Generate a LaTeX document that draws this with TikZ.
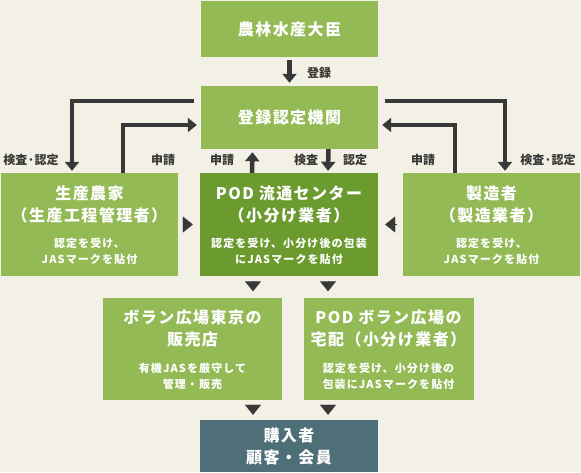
\documentclass[tikz,border=0pt]{standalone}
\usepackage{fontspec}
\setmainfont{Noto Sans CJK JP}
\usetikzlibrary{arrows.meta}
\definecolor{Paper}{HTML}{F3F1E5}
\definecolor{Leaf}{HTML}{93BA55}
\definecolor{Moss}{HTML}{6B9A2F}
\definecolor{Slate}{HTML}{4F6F78}
\definecolor{Ink}{HTML}{383838}

\begin{document}
\begin{tikzpicture}[x=1pt,y=-1pt,
    ttl/.style={text=white,align=center,
      font=\fontsize{16}{22}\selectfont\bfseries\addfontfeatures{LetterSpace=9}},
    note/.style={text=white,align=center,
      font=\fontsize{11}{16}\selectfont\bfseries\addfontfeatures{LetterSpace=10}},
    lbl/.style={text=Ink,font=\fontsize{12}{14}\selectfont\bfseries},
    flow/.style={-{Triangle[width=14pt,length=9pt]},line width=4.5pt,Ink},
    tip/.style={-{Triangle[width=16pt,length=10pt]},line width=0.1pt,Ink}
  ]
  \fill[Paper] (0,0) rectangle (581,472);
  \useasboundingbox (0,0) rectangle (581,472);

  % boxes
  \foreach \nm/\x/\y/\w/\h/\col in {
    minister/289.5/29/177/56/Leaf, body/289.5/117.5/177/63/Leaf,
    farmer/89.5/224.5/177/103/Leaf, pod/289/224.5/178/103/Moss,
    maker/491.5/224.5/177/103/Leaf, shop/192.5/348.5/179/102/Leaf,
    home/388.5/348.5/170/102/Leaf, buyer/289/446/178/52/Slate}{
    \node[fill=\col,minimum width=\w pt,minimum height=\h pt,inner sep=0pt] (\nm) at (\x,\y) {};
  }

  % texts
  \node[ttl] (minister-t) at (minister) {農林水産大臣};
  \node[ttl] (body-t) at (body) {登録認定機関};
  \node[ttl] (farmer-t) at (89.5,204) {生産農家\\（生産工程管理者）};
  \node[note] (farmer-n) at (89.5,251) {認定を受け、\\JASマークを貼付};
  \node[ttl] (pod-t) at (289,204) {POD\hspace{0.3em}流通センター\\（小分け業者）};
  \node[note] (pod-n) at (289,251) {認定を受け、小分け後の包装\\にJASマークを貼付};
  \node[ttl] (maker-t) at (491.5,204) {製造者\\（製造業者）};
  \node[note] (maker-n) at (491.5,251) {認定を受け、\\JASマークを貼付};
  \node[ttl] (shop-t) at (192.5,328.5) {ボラン広場東京の\\販売店};
  \node[note] (shop-n) at (192.5,376) {有機JASを厳守して\\管理・販売};
  \node[ttl] (home-t) at (388.5,328.5) {POD\hspace{0.3em}ボラン広場の\\宅配（小分け業者）};
  \node[note] (home-n) at (388.5,376) {認定を受け、小分け後の\\包装にJASマークを貼付};
  \node[ttl] (buyer-t) at (buyer) {購入者\\顧客・会員};

  % labels
  \node[lbl] (l-reg) at (319,73) {登録};
  \node[lbl] (l-ck1) at (31,160) {検査·認定};
  \node[lbl] (l-ap1) at (163,160) {申請};
  \node[lbl] (l-ap2) at (222,160) {申請};
  \node[lbl] (l-ck2) at (306,160) {検査};
  \node[lbl] (l-ok2) at (355,160) {認定};
  \node[lbl] (l-ap3) at (423,160) {申請};
  \node[lbl] (l-ck3) at (548,160) {検査·認定};

  % thick arrows
  \draw[flow,shorten <=3pt,shorten >=3pt] (minister) -- (body);
  \draw[flow] ([xshift=-7pt,yshift=16.5pt]body.west) -| ([xshift=-17.5pt,yshift=2pt]farmer.north);
  \draw[flow] ([xshift=33.5pt]farmer.north) |- ([xshift=-4pt,yshift=-7.5pt]body.west);
  \draw[flow] ([xshift=-37pt]pod.north) -- ([xshift=-37pt,yshift=-3pt]body.south);
  \draw[flow] ([xshift=39pt]body.south) -- ([xshift=39pt,yshift=2pt]pod.north);
  \draw[flow] ([xshift=-36.5pt]maker.north) |- ([xshift=4pt,yshift=-7.5pt]body.east);
  \draw[flow] ([xshift=7pt,yshift=16.5pt]body.east) -| ([xshift=13.5pt,yshift=2pt]maker.north);

  % small triangles
  \draw[tip,shorten <=6pt,shorten >=7pt] (farmer.east) -- (pod.west);
  \draw[tip,shorten <=6pt,shorten >=7pt] (maker.west) -- (pod.east);
  \draw[tip,shorten <=6pt,shorten >=6pt] ([xshift=-36pt]pod.south) -- ([xshift=-36pt]pod.south |- shop.north);
  \draw[tip,shorten <=6pt,shorten >=6pt] ([xshift=39pt]pod.south) -- ([xshift=39pt]pod.south |- home.north);
  \draw[tip,shorten <=5pt,shorten >=5pt] ([xshift=-36pt]buyer.north |- shop.south) -- ([xshift=-36pt]buyer.north);
  \draw[tip,shorten <=5pt,shorten >=5pt] ([xshift=39pt]buyer.north |- home.south) -- ([xshift=39pt]buyer.north);
\end{tikzpicture}
\end{document}
